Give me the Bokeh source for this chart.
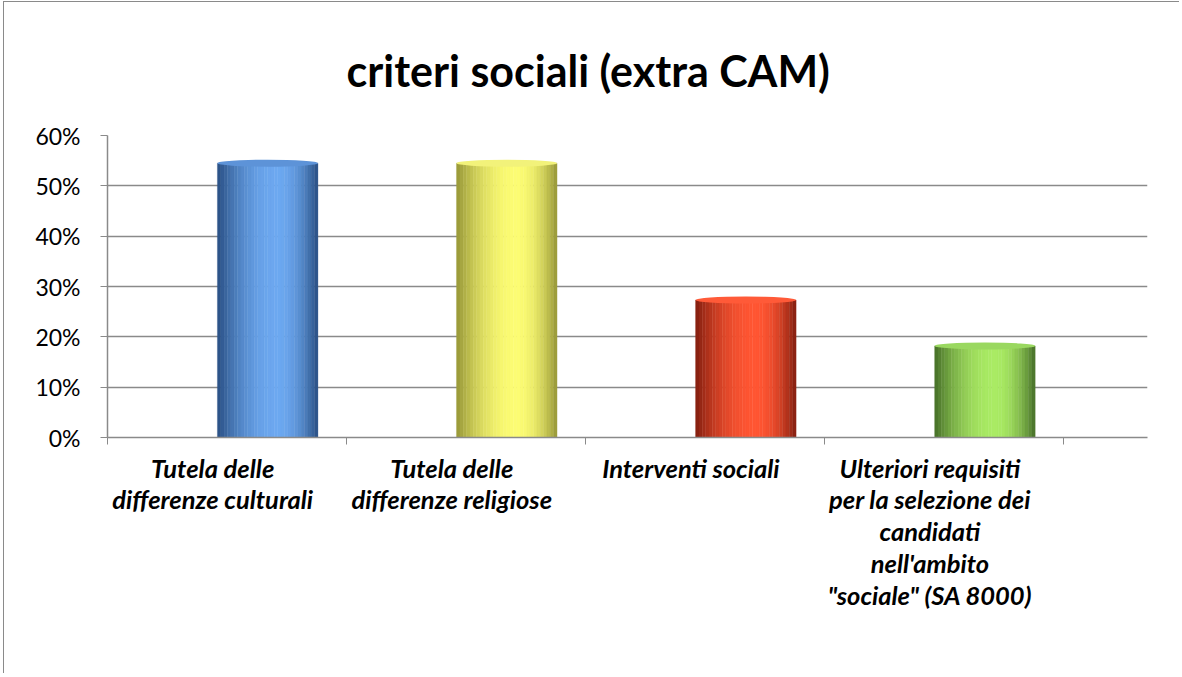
import numpy as np
from bokeh.plotting import figure
from bokeh.models import Range1d, FixedTicker, NumeralTickFormatter, ColumnDataSource
from bokeh.embed import file_html
from bokeh.resources import INLINE

# ---- data ----
title_text = "criteri sociali (extra CAM)"
categories = [
    "Tutela delle\ndifferenze culturali",
    "Tutela delle\ndifferenze religiose",
    "Interventi sociali",
    "Ulteriori requisiti\nper la selezione dei\ncandidati\nnell'ambito\n\"sociale\" (SA 8000)",
]
values = [0.545, 0.545, 0.273, 0.182]
y_ticks = [0.0, 0.1, 0.2, 0.3, 0.4, 0.5, 0.6]

# ---- styles ----
dark_cols = [(40, 78, 130), (150, 150, 55), (130, 30, 15), (70, 110, 40)]
light_cols = [(108, 168, 240), (252, 252, 115), (255, 85, 50), (170, 235, 100)]
cap_cols = ["#5d93d8", "#f2f27a", "#ff5a38", "#9ad860"]

FONT = "Lato"
n = len(categories)
bar_shift = 0.17
bar_w = 0.42
nstrip = 30

W, H = 1176, 672
OX, OY = 4, 2   # page offset of the figure (margin + border)
FL, FR, FT, FB = 107, 1147, 135, 437   # target frame edges on page
p = figure(width=W, height=H, output_backend="svg", toolbar_location=None,
           x_range=Range1d(0, 4.35), y_range=Range1d(0, 0.6),
           min_border_left=FL - OX, min_border_right=W - (FR - OX),
           min_border_top=FT - OY, min_border_bottom=H - (FB - OY),
           title=title_text)
p.styles = {"border-top": "1px solid #8a8a8a", "border-left": "1px solid #8a8a8a",
            "margin-left": "3px", "margin-top": "1px"}
p.outline_line_color = None
p.background_fill_color = "white"
p.border_fill_color = "white"

p.title.align = "left"
p.title.offset = 239
p.title.standoff = 80
p.title.text_font = FONT
p.title.text_font_size = "43px"
p.title.text_font_style = "bold"
p.title.text_color = "black"

# gradient bars as thin strips
def shade(u):
    pk = 0.6
    if u < pk:
        f = 1 - ((pk - u) / pk) ** 2
    else:
        f = 1 - ((u - pk) / (1 - pk)) ** 2
    return max(0.0, min(1.0, f))

xs, tops, cols = [], [], []
sw = bar_w / nstrip
for i, v in enumerate(values):
    cx = i + 0.5 + bar_shift
    left = cx - bar_w / 2
    for k in range(nstrip):
        u = (k + 0.5) / nstrip
        f = shade(u)
        d, l = dark_cols[i], light_cols[i]
        c = tuple(int(round(d[j] + (l[j] - d[j]) * f)) for j in range(3))
        xs.append(left + (k + 0.5) * sw)
        tops.append(v)
        cols.append("#%02x%02x%02x" % c)

src = ColumnDataSource(dict(x=xs, top=tops, color=cols))
p.vbar(x="x", top="top", bottom=0, width=sw * 1.05, fill_color="color",
       line_color="color", line_width=0.3, source=src)

cap_src = ColumnDataSource(dict(x=[i + 0.5 + bar_shift for i in range(n)], y=values, c=cap_cols))
p.ellipse(x="x", y="y", width=bar_w, height=7, height_units="screen",
          fill_color="c", line_color=None, source=cap_src)

# grid
p.xgrid.visible = False
p.ygrid.ticker = FixedTicker(ticks=y_ticks)
p.ygrid.grid_line_color = "#8a8a8a"
p.ygrid.grid_line_width = 1.6

# y axis
p.yaxis.ticker = FixedTicker(ticks=y_ticks)
p.yaxis.formatter = NumeralTickFormatter(format="0%")
p.yaxis.axis_line_color = "#8a8a8a"
p.yaxis.axis_line_width = 1.5
p.yaxis.major_tick_line_color = "#8a8a8a"
p.yaxis.major_tick_out = 7
p.yaxis.major_tick_in = 0
p.yaxis.minor_tick_line_color = None
p.yaxis.major_label_text_font = FONT
p.yaxis.major_label_text_font_size = "23px"
p.yaxis.major_label_text_color = "black"
p.yaxis.major_label_standoff = 20

# x axis: labels at category centers, boundary ticks as minor ticks
label_pos = [i + 0.44 for i in range(n)]
p.xaxis.ticker = FixedTicker(ticks=label_pos, minor_ticks=list(range(n + 1)))
p.xaxis.major_label_overrides = {lp: c for lp, c in zip(label_pos, categories)}
p.xaxis.axis_line_color = "#8a8a8a"
p.xaxis.axis_line_width = 1.5
p.xaxis.major_tick_line_color = None
p.xaxis.minor_tick_line_color = "#8a8a8a"
p.xaxis.minor_tick_out = 7
p.xaxis.minor_tick_in = 0
p.xaxis.major_label_text_font = FONT
p.xaxis.major_label_text_font_size = "25.5px"
p.xaxis.major_label_text_font_style = "bold italic"
p.xaxis.major_label_text_color = "black"
p.xaxis.major_label_text_line_height = 1.06
p.xaxis.major_label_standoff = 8

open("out.html", "w").write(file_html(p, INLINE))
